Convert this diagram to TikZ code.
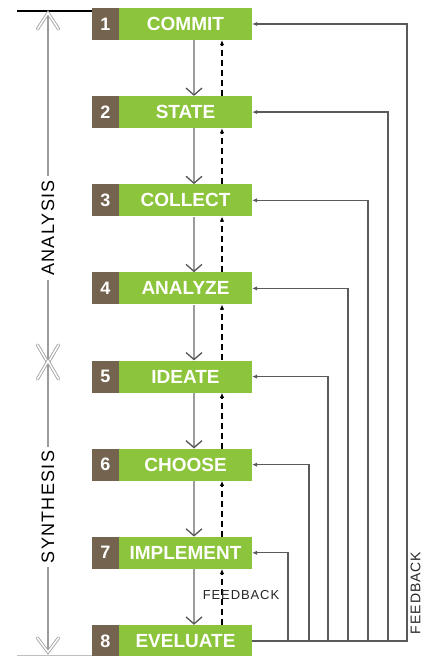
\documentclass[tikz,border=0pt]{standalone}
\usepackage{fontspec}
\setmainfont{Liberation Sans}
\newfontfamily\spaced[LetterSpace=7]{Liberation Sans}
\usetikzlibrary{arrows.meta}
\definecolor{grn}{HTML}{8CC43C}
\definecolor{brn}{HTML}{74634E}
\definecolor{lgray}{HTML}{9C9C9C}
\definecolor{agray}{HTML}{555555}
\definecolor{fbgray}{HTML}{5A5A5A}
\begin{document}
\begin{tikzpicture}[x=1pt,y=-1pt,
  numbox/.style={fill=brn,text=white,minimum width=27pt,minimum height=32pt,inner sep=0pt,
    font=\fontsize{18}{18}\selectfont\bfseries},
  stepbox/.style={fill=grn,text=white,minimum width=133pt,minimum height=32pt,inner sep=0pt,
    font=\fontsize{19}{19}\selectfont\bfseries},
  downarr/.style={draw=lgray,line width=1.8pt,
    -{Straight Barb[length=7pt,width=16pt,line width=1.3pt,color=agray]}},
  uparr/.style={draw=black,line width=1.1pt,dash pattern=on 6pt off 4pt,
    -{Latex[length=5pt,width=4.5pt]}},
  fb/.style={draw=fbgray,line width=1.3pt,-{Latex[length=5pt,width=4.5pt]}},
  axis/.style={draw=lgray,line width=1.4pt},
  chev/.style={draw=lgray,double=white,double distance=1.6pt,line width=0.8pt,
    line cap=round,line join=miter},
  axlabel/.style={rotate=90,inner sep=4pt,text=black,font=\spaced\fontsize{18}{18}\selectfont},
  fblabel/.style={inner sep=1pt,text=black!85,font=\spaced\fontsize{13}{13}\selectfont},
]
\useasboundingbox (0,0) rectangle (422,656);

% steps
\foreach \k/\y/\t in {1/24/COMMIT,2/112.1/STATE,3/200.3/COLLECT,4/288.4/ANALYZE,
                      5/376.6/IDEATE,6/464.7/CHOOSE,7/552.8/IMPLEMENT,8/641/EVELUATE}{
  \node[numbox] (n\k) at (105.5,\y) {\k};
  \node[stepbox] (b\k) at (185.5,\y) {\t};
}

% forward and dashed feedback arrows
\foreach \k [evaluate=\k as \j using int(\k+1)] in {1,...,7}{
  \draw[downarr] ([xshift=8.5pt]b\k.south) -- ([xshift=8.5pt]b\j.north);
  \draw[uparr] ([xshift=36.5pt]b\j.north) -- ([xshift=36.5pt]b\k.south);
}

\node[fblabel] (fbmid) at (241,595) {FEEDBACK};

% outer feedback loops
\foreach \k/\x in {1/407,2/388,3/368,4/348,5/328,6/309,7/288}{
  \coordinate (f\k) at (\x,0);
  \draw[fb] (b8.east) -| (f\k |- b\k.east) -- (b\k.east);
}
\node[rotate=90,inner sep=0pt,text=black!85,font=\spaced\fontsize{14}{14}\selectfont]
  (fbright) at (415.5,593) {FEEDBACK};

% left axis
\coordinate (topL) at (17,11);
\coordinate (topA) at (48,13);
\coordinate (xdown) at (48,363);
\coordinate (xup) at (48,361);
\coordinate (botA) at (48,652);
\coordinate (botL) at (17,655);
\draw[black,line width=1.2pt] (topL) -- (topL -| n1.west);
\draw[black!25,line width=0.8pt] (botL) -- (botL -| n8.west);

\node[axlabel] (ana) at (48,228) {ANALYSIS};
\node[axlabel] (syn) at (48,507) {SYNTHESIS};

\draw[axis] (topA) -- (ana);
\draw[axis] (ana) -- (xdown);
\draw[axis] (xup) -- (syn);
\draw[axis] (syn) -- (botA);

\draw[chev] ([xshift=-10.5pt,yshift=-16pt]topA) -- (topA) -- ([xshift=10.5pt,yshift=-16pt]topA);
\draw[chev] ([xshift=-10.5pt,yshift=18pt]xdown) -- (xdown) -- ([xshift=10.5pt,yshift=18pt]xdown);
\draw[chev] ([xshift=-10.5pt,yshift=-18pt]xup) -- (xup) -- ([xshift=10.5pt,yshift=-18pt]xup);
\draw[chev] ([xshift=-10.5pt,yshift=14pt]botA) -- (botA) -- ([xshift=10.5pt,yshift=14pt]botA);
\end{tikzpicture}
\end{document}
